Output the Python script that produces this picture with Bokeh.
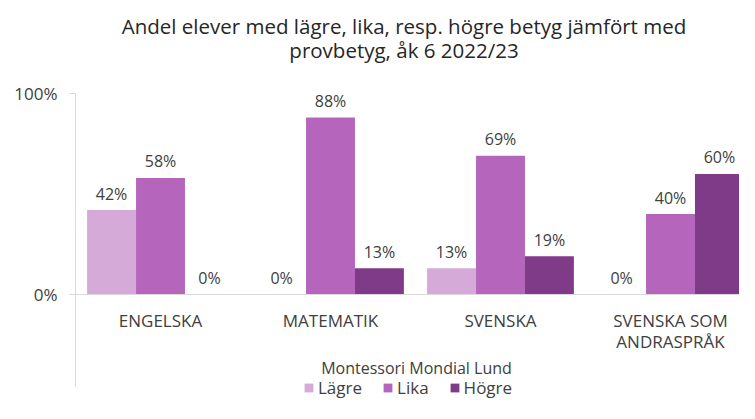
from bokeh.plotting import figure
from bokeh.models import Range1d, FixedTicker, NumeralTickFormatter, Span, ColumnDataSource
from bokeh.core.properties import value
from bokeh.embed import file_html
from bokeh.resources import INLINE

# ---------------- data ----------------
categories = ["ENGELSKA", "MATEMATIK", "SVENSKA", "SVENSKA SOM ANDRASPRÅK"]
category_labels = ["ENGELSKA", "MATEMATIK", "SVENSKA", "SVENSKA SOM\nANDRASPRÅK"]
series = ["Lägre", "Lika", "Högre"]
lagre = [0.42, 0.00, 0.13, 0.00]
lika = [0.58, 0.88, 0.69, 0.40]
hogre = [0.00, 0.13, 0.19, 0.60]
colors = ["#D5AAD9", "#B565BC", "#7F3B88"]
title_lines = ["Andel elever med lägre, lika, resp. högre betyg jämfört med",
               "provbetyg, åk 6 2022/23"]
school = "Montessori Mondial Lund"
y_ticks = [0, 1]

# ---------------- layout constants (pixels) ----------------
FONT = "Open Sans"
W, H = 739, 403
LEFT = 75          # frame left edge in figure px
PX_X = 170.0       # pixels per category
PX_Y = 201.0       # pixels per 100 %
ZERO_Y = 294       # figure px (from top) of the 0 % line
BAR_W = 49.5 / 172


def ydata(fig_px_from_top):
    return (ZERO_Y - fig_px_from_top) / PX_Y


def xdata(fig_px_from_left):
    return (fig_px_from_left - LEFT) / PX_X


p = figure(width=W, height=H, output_backend="svg", toolbar_location=None,
           x_range=Range1d(0, (W - LEFT) / PX_X),
           y_range=Range1d(-(H - ZERO_Y) / PX_Y, ZERO_Y / PX_Y),
           min_border_left=LEFT, min_border_right=0, min_border_top=0, min_border_bottom=0,
           x_axis_location=None, outline_line_color=None)
p.grid.visible = False

ax = p.yaxis[0]
ax.ticker = FixedTicker(ticks=y_ticks)
ax.formatter = NumeralTickFormatter(format="0%")
ax.bounds = (ydata(386), 1)
ax.axis_line_color = "#D9D9D9"
ax.major_tick_line_color = "#D9D9D9"
ax.major_tick_out = 6
ax.major_tick_in = 0
ax.minor_tick_line_color = None
ax.major_label_text_font = FONT
ax.major_label_text_font_size = "17px"
ax.major_label_text_color = "#404040"
ax.major_label_standoff = 12

p.add_layout(Span(location=0, dimension="width", line_color="#D9D9D9", line_width=1))

offsets = [-1, 0, 1]
for k, (name, vals, col) in enumerate(zip(series, [lagre, lika, hogre], colors)):
    xs = [i + 0.5 + offsets[k] * BAR_W for i in range(len(categories))]
    src = ColumnDataSource(dict(x=xs, top=vals, label=[f"{round(v * 100)}%" for v in vals]))
    p.vbar(x="x", top="top", bottom=0, width=BAR_W, source=src,
           fill_color=col, line_color=None, legend_label=name)
    p.text(x="x", y="top", text="label", source=src, text_align="center",
           text_baseline="middle", y_offset=-16.5, text_font=value(FONT),
           text_font_size="16px", text_color="#404040")

# category labels
cat_src = ColumnDataSource(dict(x=[i + 0.5 for i in range(len(categories))],
                                y=[0] * len(categories), text=category_labels))
p.text(x="x", y="y", text="text", source=cat_src, text_align="center",
       text_baseline="top", y_offset=14, text_line_height=0.95,
       text_font=value(FONT), text_font_size="17px", text_color="#404040")

# axis title (school)
p.text(x=[xdata(416)], y=[ydata(367)], text=[school], text_align="center",
       text_baseline="middle", text_font=value(FONT), text_font_size="16px",
       text_color="#404040")

# chart title
p.text(x=[xdata(403.5)] * 2, y=[ydata(25), ydata(49)], text=title_lines,
       text_align="center", text_baseline="middle", text_font=value(FONT),
       text_font_size="20.5px", text_color="#262626")

lg = p.legend[0]
lg.orientation = "horizontal"
lg.location = (303 - LEFT, 4)
lg.glyph_width = 11
lg.glyph_height = 11
lg.label_standoff = 4
lg.spacing = 20
lg.padding = 0
lg.margin = 0
lg.border_line_color = None
lg.background_fill_alpha = 0
lg.label_text_font = FONT
lg.label_text_font_size = "17px"
lg.label_text_color = "#404040"
lg.label_height = 16

open("out.html", "w").write(file_html(p, INLINE))
